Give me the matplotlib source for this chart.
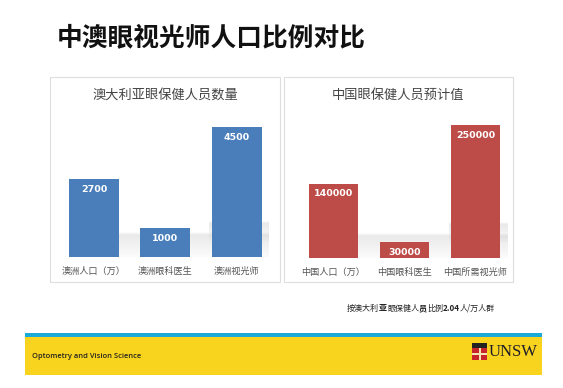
import matplotlib
matplotlib.use("Agg")
import matplotlib.pyplot as plt
import numpy as np
from matplotlib.patches import Rectangle
from matplotlib.colors import LinearSegmentedColormap

plt.rcParams['font.family'] = ['Noto Sans CJK SC', 'DejaVu Sans']

# ---- data ----
title = "中澳眼视光师人口比例对比"
au_title = "澳大利亚眼保健人员数量"
au_categories = ["澳洲人口（万）", "澳洲眼科医生", "澳洲视光师"]
au_values = [2700, 1000, 4500]
cn_title = "中国眼保健人员预计值"
cn_categories = ["中国人口（万）", "中国眼科医生", "中国所需视光师"]
cn_values = [140000, 30000, 250000]
note_parts = [("按澳大利", False), ("亚", True), ("眼保健人", False), ("员", True),
              ("比例", False), ("2.04", True), ("人/万人群", False)]
footer = "Optometry and Vision Science"

W, H = 563, 388
fig = plt.figure(figsize=(W / 100, H / 100), dpi=100)
fig.patch.set_facecolor("white")


def fx(px):
    return px / W


def fy(py):
    return 1 - py / H


def add_ax(x0, y0, x1, y1, **kw):
    return fig.add_axes([fx(x0), fy(y1), (x1 - x0) / W, (y1 - y0) / H], **kw)


bg = fig.add_axes([0, 0, 1, 1], zorder=0)
bg.set_xlim(0, W)
bg.set_ylim(H, 0)
bg.axis("off")

# title
bg.text(57, 38, title, fontsize=18.5, fontweight="bold", color="#111111",
        va="center", ha="left")

# panels
for (x0, x1) in [(50, 280), (284, 513)]:
    bg.add_patch(Rectangle((x0, 77), x1 - x0, 205, facecolor="white",
                           edgecolor="#dedede", lw=0.8))
    grad = np.linspace(1, 0, 100).reshape(-1, 1)
    cmap = LinearSegmentedColormap.from_list("g", ["#f4f4f4", "#ffffff"])
    bg.imshow(grad, extent=(x0 + 1, x1 - 1, 281, 150), cmap=cmap,
              aspect="auto", zorder=0.5)

# note (with bold fragments), chained left to right
prev = None
for txt, bold in note_parts:
    kw = dict(fontsize=5.8, color="#222222", ha="left", va="bottom",
              fontweight="bold" if bold else "normal")
    if prev is None:
        prev = bg.text(347, 313, txt, **kw)
    else:
        prev = bg.annotate(txt, xy=(1, 0), xycoords=prev, **kw)

# footer band
bg.add_patch(Rectangle((25, 333), 517, 4, facecolor="#1ba9d9", edgecolor="none"))
bg.add_patch(Rectangle((25, 337), 517, 38, facecolor="#f9d41e", edgecolor="none"))
bg.text(32, 356, footer, fontsize=5.4, color="#222222", ha="left", va="center",
        family=["Open Sans", "DejaVu Sans"], fontweight="semibold")
# UNSW crest + wordmark
bg.add_patch(Rectangle((472, 343), 15, 5, facecolor="#222222", edgecolor="none"))
bg.add_patch(Rectangle((472, 348), 15, 12, facecolor="#c8242b", edgecolor="none"))
bg.add_patch(Rectangle((478.5, 348), 2, 12, facecolor="#f3e3b0", edgecolor="none"))
bg.add_patch(Rectangle((472, 353), 15, 2, facecolor="#f3e3b0", edgecolor="none"))
bg.text(489, 352, "UNSW", fontsize=12, color="#1c1c2a", ha="left", va="center",
        family=["Liberation Serif", "DejaVu Serif"])


def panel(x0, x1, base_px, top_px, ymax, cats, vals, color, ptitle, tcx):
    ax = add_ax(x0, top_px, x1, base_px, zorder=2)
    ax.set_xlim(-0.5, 2.5)
    ax.set_ylim(0, ymax)
    ax.patch.set_alpha(0)
    for s in ax.spines.values():
        s.set_visible(False)
    x = np.arange(len(vals))
    # floor shadow (top rows first in image)
    shade = np.concatenate([np.linspace(0.0, 0.22, 12), np.linspace(0.22, 0.04, 88)])
    rgba = np.zeros((100, 1, 4))
    rgba[..., :3] = 0.62
    rgba[:, 0, 3] = shade
    ax.imshow(rgba, extent=(-0.32, 2.45, 0, ymax * 0.155), aspect="auto", zorder=1)
    ax.imshow(rgba, extent=(1.62, 2.45, ymax * 0.10, ymax * 0.225),
              aspect="auto", zorder=1)
    ax.bar(x, vals, width=0.70, color=color, zorder=3, edgecolor="none")
    ax.set_xticks(x)
    ax.set_xticklabels(cats, fontsize=6.6, color="#555555")
    ax.tick_params(axis="x", length=0, pad=7)
    ax.set_yticks([])
    for xi, v in zip(x, vals):
        ax.annotate(f"{v}", (xi, v), xytext=(0, -7.5), textcoords="offset points",
                    ha="center", va="center", color="white", fontsize=6.8,
                    fontweight="bold", family=["DejaVu Sans"], zorder=4)
    bg.text(tcx, 95, ptitle, fontsize=9.5, color="#444444", ha="center",
            va="center")
    return ax


panel(58.4, 272.2, 257, 100, 157 / 0.028889, au_categories, au_values,
      "#4a7ebb", au_title, 165)
panel(298, 511, 258, 100, 158 / 0.000532, cn_categories, cn_values,
      "#bd4b48", cn_title, 398)

fig.savefig("out.png", dpi=100, facecolor="white")
